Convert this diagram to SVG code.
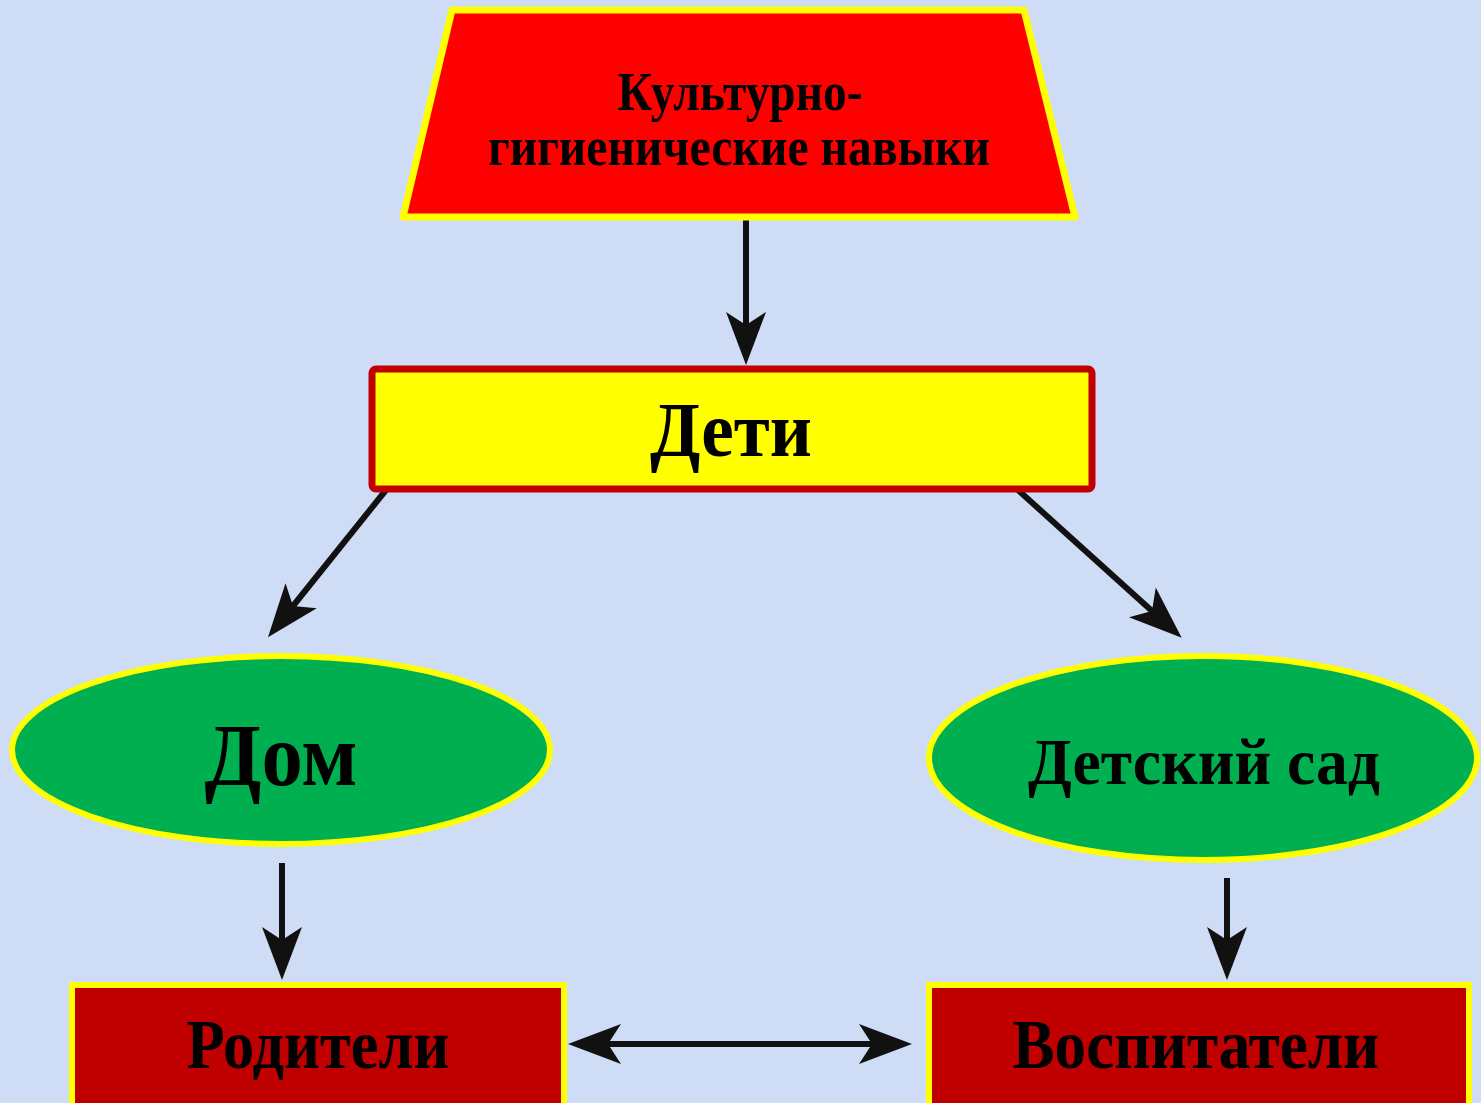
<svg xmlns="http://www.w3.org/2000/svg" width="1481" height="1103" viewBox="0 0 1481 1103">
<defs>
<style>
.t{font-family:"Liberation Serif","Times New Roman",serif;font-weight:bold;fill:#000;text-anchor:middle}
.c{stroke:#111;stroke-width:6;fill:none}
</style>
<marker id="ah" markerUnits="userSpaceOnUse" viewBox="-14 -21 56 42" refX="0" refY="0" markerWidth="56" markerHeight="42" orient="auto-start-reverse">
<path d="M40,0 L-13,-20 L0,0 L-13,20 Z" fill="#111"/>
</marker>
</defs>
<rect width="1481" height="1103" fill="#cfdcf5"/>
<g id="connectors">
<line class="c" x1="746" y1="219" x2="746" y2="325" marker-end="url(#ah)"/>
<line class="c" x1="386" y1="490" x2="293" y2="606" marker-end="url(#ah)"/>
<line class="c" x1="1018" y1="490" x2="1152" y2="611" marker-end="url(#ah)"/>
<line class="c" x1="282" y1="863" x2="282" y2="940" marker-end="url(#ah)"/>
<line class="c" x1="1227" y1="878" x2="1227" y2="940" marker-end="url(#ah)"/>
<line class="c" x1="608" y1="1044" x2="872" y2="1044" marker-start="url(#ah)" marker-end="url(#ah)"/>
</g>
<g id="node-skills">
<polygon points="452,10 1024,10 1075,217 403,217" fill="#ff0000" stroke="#ffff00" stroke-width="7" stroke-linejoin="round"/>
<text class="t" x="740" y="110" font-size="54" textLength="245" lengthAdjust="spacingAndGlyphs">Культурно-</text>
<text class="t" x="739" y="165" font-size="54" textLength="502" lengthAdjust="spacingAndGlyphs">гигиенические навыки</text>
</g>
<g id="node-children">
<rect x="372" y="369" width="720" height="120" rx="4" fill="#ffff00" stroke="#c00000" stroke-width="7"/>
<text class="t" x="731" y="456" font-size="78" textLength="162" lengthAdjust="spacingAndGlyphs">Дети</text>
</g>
<g id="node-home">
<ellipse cx="281" cy="750" rx="269" ry="94" fill="#00b050" stroke="#ffff00" stroke-width="6"/>
<text class="t" x="281" y="785" font-size="88" textLength="153" lengthAdjust="spacingAndGlyphs">Дом</text>
</g>
<g id="node-kindergarten">
<ellipse cx="1203" cy="758" rx="274" ry="102" fill="#00b050" stroke="#ffff00" stroke-width="6"/>
<text class="t" x="1204" y="784" font-size="66" textLength="352" lengthAdjust="spacingAndGlyphs">Детский сад</text>
</g>
<g id="node-parents">
<rect x="72" y="985" width="492" height="130" fill="#c00000" stroke="#ffff00" stroke-width="6"/>
<text class="t" x="318" y="1068" font-size="70" textLength="263" lengthAdjust="spacingAndGlyphs">Родители</text>
</g>
<g id="node-teachers">
<rect x="929" y="985" width="540" height="130" fill="#c00000" stroke="#ffff00" stroke-width="6"/>
<text class="t" x="1196" y="1068" font-size="70" textLength="367" lengthAdjust="spacingAndGlyphs">Воспитатели</text>
</g>
</svg>
